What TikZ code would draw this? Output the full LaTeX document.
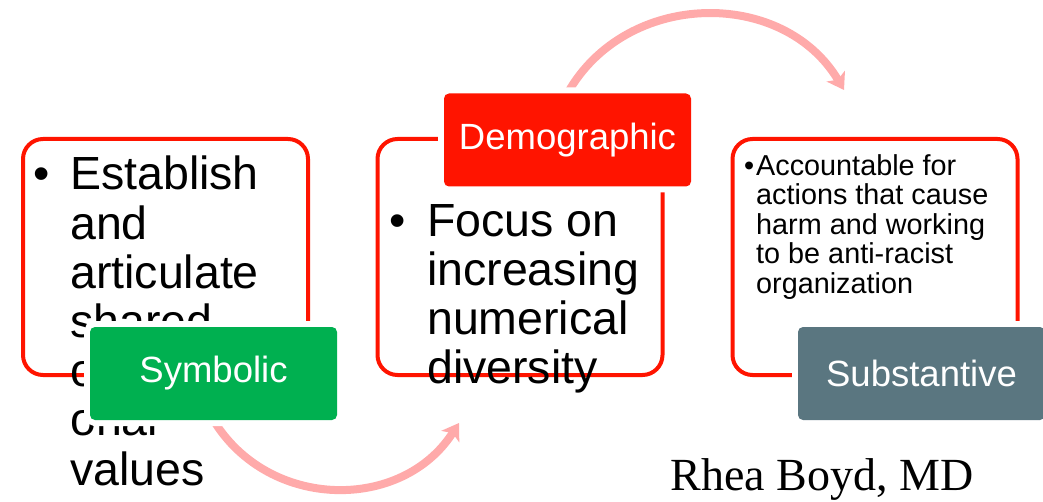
\documentclass[tikz,border=0pt]{standalone}
\usepackage{fontspec}
\setmainfont{Liberation Serif}
\setsansfont{Liberation Sans}
\usetikzlibrary{arrows.meta,backgrounds}
\definecolor{stagered}{RGB}{255,20,0}
\definecolor{stagegreen}{RGB}{0,176,80}
\definecolor{stageslate}{RGB}{90,118,128}
\definecolor{flowpink}{RGB}{255,170,170}

\begin{document}
\begin{tikzpicture}[x=1pt, y=-1pt,
    outline/.style={draw=stagered, line width=4pt, rounded corners=20pt,
        minimum width=285pt, minimum height=236pt, inner sep=0pt},
    stagelabel/.style={rounded corners=5pt, minimum width=247pt, minimum height=93pt,
        inner sep=0pt, text=white, font=\sffamily\fontsize{36.5}{40}\selectfont,
        preaction={draw=white, line width=12pt}},
    bigtext/.style={anchor=north west, inner sep=0pt, align=left,
        font=\sffamily\fontsize{46.5}{49.2}\selectfont},
    smalltext/.style={anchor=north west, inner sep=0pt, align=left,
        font=\sffamily\fontsize{28.8}{29.6}\selectfont},
    flow/.style={draw=flowpink, line width=8pt, -{Stealth[length=16pt, width=21pt, inset=4pt]}}
]
    \useasboundingbox (0,0) rectangle (1043,502);

    % Outlined boxes
    \node[outline] (symbox) at (165.5,257) {};
    \node[outline] (dembox) at (520,257) {};
    \node[outline] (subbox) at (875,257) {};

    % Bullet texts
    \node[bigtext] (symtext) at (70,156) {\llap{\textbullet\hspace{20pt}}Establish\\and\\articulate\\shared\\organizati\\onal\\values};
    \node[bigtext] (demtext) at (427,204) {\llap{\textbullet\hspace{21pt}}Focus on\\increasing\\numerical\\diversity};
    \node[smalltext] (subtext) at (756,154) {\llap{\textbullet\hspace{2pt}}Accountable for\\actions that cause\\harm and working\\to be anti-racist\\organization};

    % Stage labels
    \node[stagelabel, fill=stagegreen] (sym) at (213.5,373.5) {Symbolic};
    \node[stagelabel, fill=stagered] (dem) at (567.5,140) {Demographic};
    \node[stagelabel, fill=stageslate] (sub) at (921.5,373.5) {Substantive};

    % Curved arrows
    \coordinate (symflow) at (459,423);
    \coordinate (demflow) at (844,90);
    \begin{scope}[on background layer]
        \draw[flow] (sym.south) to[bend right=58, looseness=1.1] (symflow);
        \draw[flow] (dem.north) to[bend left=60, looseness=1.1] (demflow);
    \end{scope}

    \node[anchor=base, font=\fontsize{46}{50}\selectfont] (credit) at (822,490) {Rhea Boyd, MD};
\end{tikzpicture}
\end{document}
